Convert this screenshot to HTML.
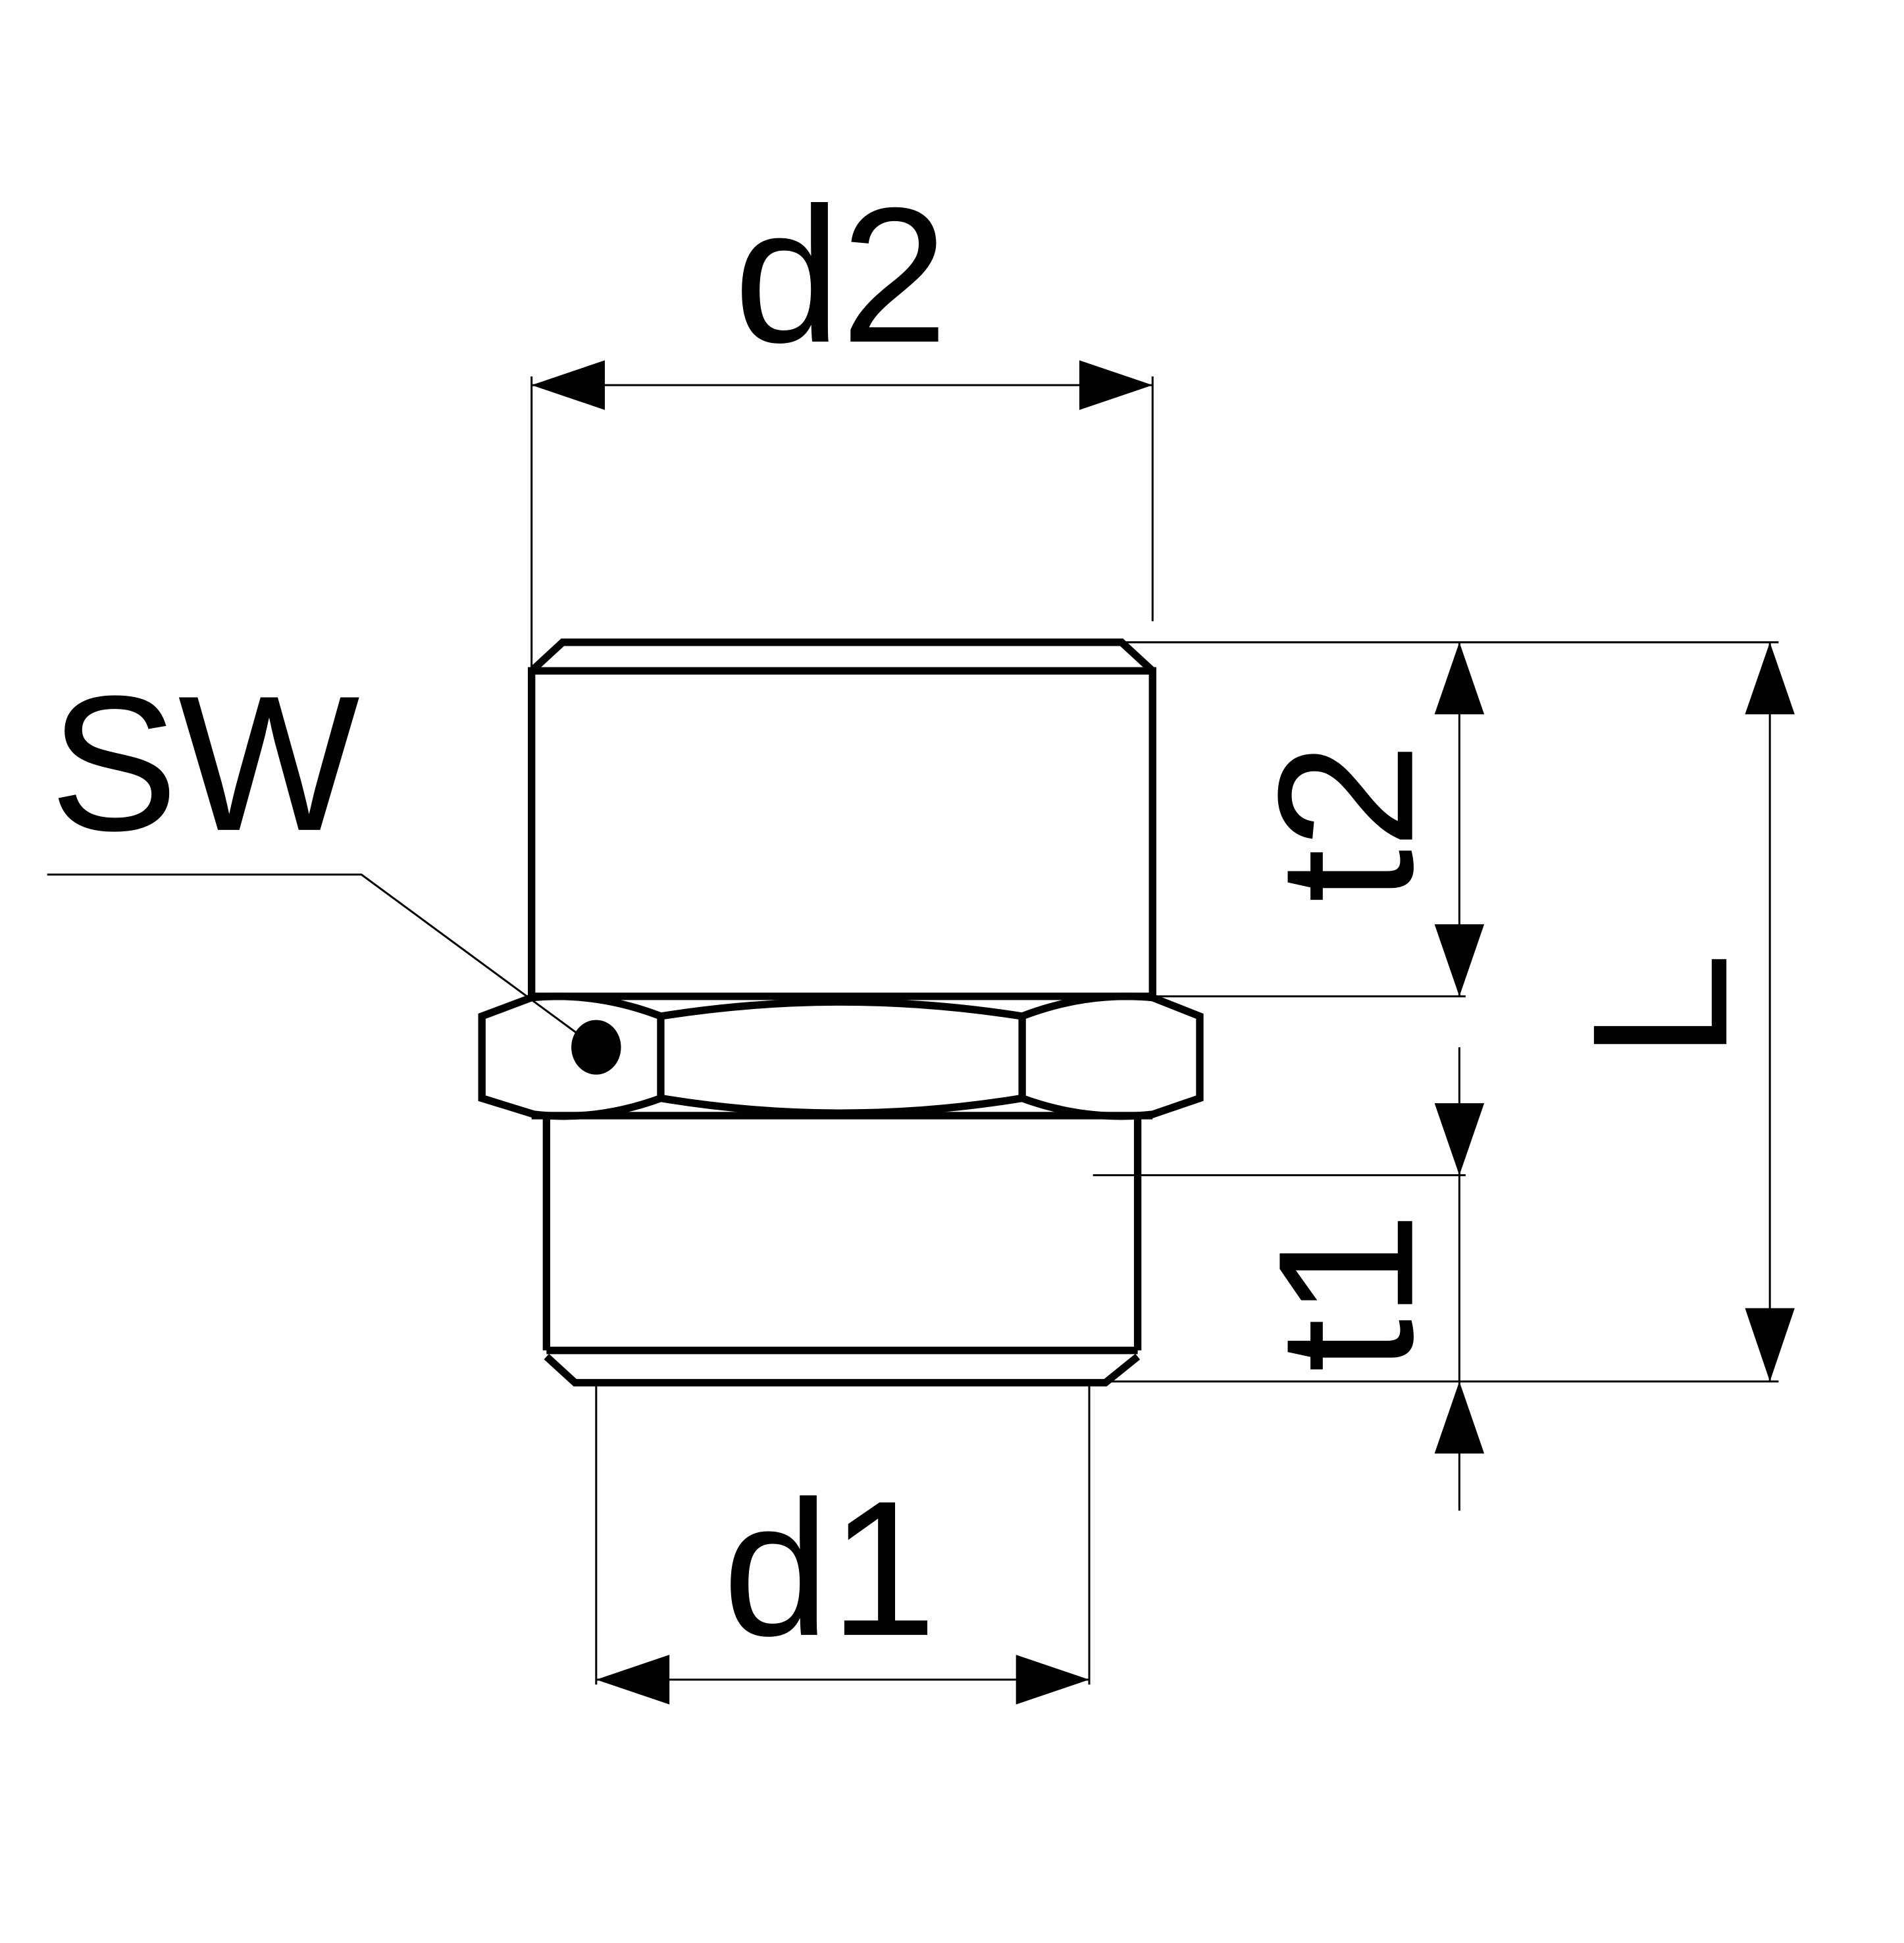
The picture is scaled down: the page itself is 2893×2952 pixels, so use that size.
<!DOCTYPE html>
<html><head><style>html,body{margin:0;padding:0;background:#fff}svg{display:block}</style></head>
<body>
<svg width="2893" height="2952" viewBox="0 0 1533 1564" preserveAspectRatio="none" xmlns="http://www.w3.org/2000/svg">
<g fill="none" stroke="#000" stroke-width="1.6">
<line x1="428" y1="303" x2="428" y2="540"/>
<line x1="928" y1="303" x2="928" y2="500"/>
<line x1="428" y1="310" x2="928" y2="310"/>
<line x1="903" y1="517" x2="1432" y2="517"/>
<line x1="928" y1="802" x2="1180" y2="802"/>
<line x1="880" y1="946" x2="1180" y2="946"/>
<line x1="890" y1="1112" x2="1432" y2="1112"/>
<line x1="480" y1="1113" x2="480" y2="1356"/>
<line x1="877" y1="1113" x2="877" y2="1356"/>
<line x1="480" y1="1352" x2="877" y2="1352"/>
<line x1="1175" y1="517" x2="1175" y2="802"/>
<line x1="1175" y1="843" x2="1175" y2="1216"/>
<line x1="1425" y1="517" x2="1425" y2="1112"/>
<polyline points="38,704 291,704 465,832"/>
</g>
<g fill="#000">
<polygon points="428,310 487,290 487,330"/>
<polygon points="928,310 869,290 869,330"/>
<polygon points="480,1352 539,1332 539,1372"/>
<polygon points="877,1352 818,1332 818,1372"/>
<polygon points="1175,517 1155,575 1195,575"/>
<polygon points="1175,802 1155,744 1195,744"/>
<polygon points="1175,946 1155,888 1195,888"/>
<polygon points="1175,1112 1155,1170 1195,1170"/>
<polygon points="1425,517 1405,575 1445,575"/>
<polygon points="1425,1112 1405,1053 1445,1053"/>
<ellipse cx="480" cy="843" rx="20" ry="22"/>
</g>
<g fill="none" stroke="#000" stroke-width="6" stroke-linejoin="miter">
<polyline points="428,540 453,517 903,517 928,540"/>
<rect x="428" y="540" width="500" height="262"/>
<path d="M388,818 L428,803 Q480,798 532,818 Q677,795 823,818 Q875,798 928,803 L966,818 L966,884 L928,897 Q875,903 823,884 Q677,908 532,884 Q480,903 430,897 L388,884 Z"/>
<line x1="532" y1="818" x2="532" y2="884"/>
<line x1="823" y1="818" x2="823" y2="884"/>
<line x1="428" y1="898" x2="928" y2="898"/>
<line x1="440" y1="900" x2="440" y2="1087"/>
<line x1="916" y1="900" x2="916" y2="1087"/>
<polyline points="440,1087 916,1087"/>
<polyline points="440,1092 463,1113 890,1113 916,1092"/>
</g>
<g font-family="Liberation Sans, sans-serif" font-size="155" fill="#000">
<text x="677" y="275" text-anchor="middle">d2</text>
<text x="668" y="1316" text-anchor="middle">d1</text>
<text x="40" y="668">SW</text>
<text transform="translate(1390,810) rotate(-90)" text-anchor="middle">L</text>
<text transform="translate(1137,662) rotate(-90)" text-anchor="middle">t2</text>
<text transform="translate(1137,1040) rotate(-90)" text-anchor="middle">t1</text>
</g>
</svg>
</body></html>
